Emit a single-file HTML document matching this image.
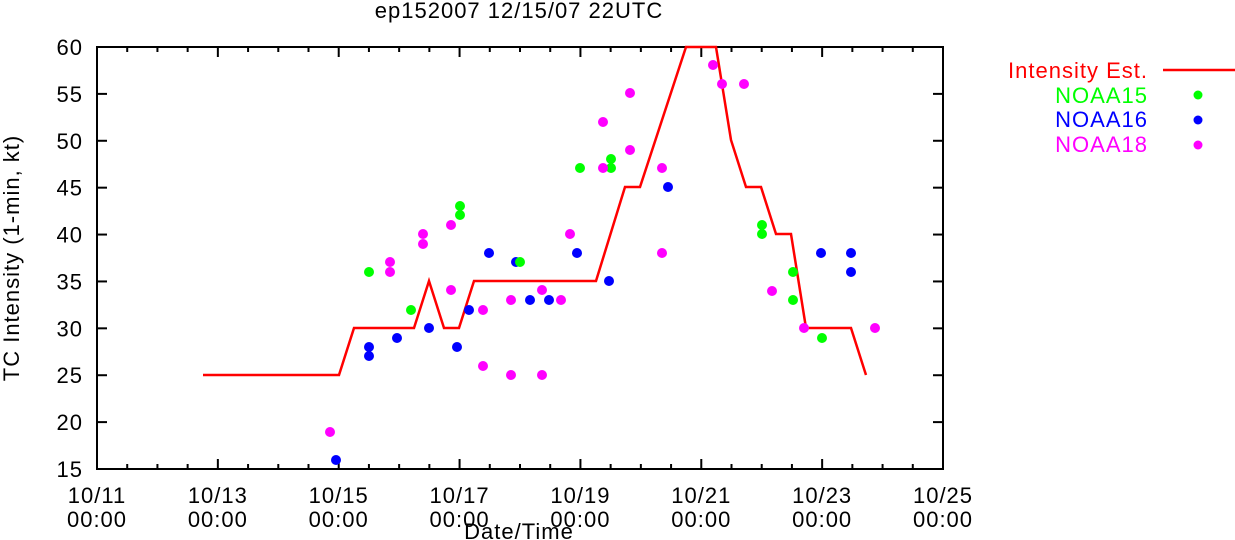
<!DOCTYPE html>
<html><head><meta charset="utf-8"><style>body{margin:0;background:#fff}svg{display:block}text{font-family:"Liberation Sans",sans-serif;font-size:22px;letter-spacing:1px}</style></head><body>
<svg width="1235" height="540" viewBox="0 0 1235 540" xmlns="http://www.w3.org/2000/svg">
<rect width="1235" height="540" fill="#fff"/>
<text x="519" y="18" text-anchor="middle">ep152007 12/15/07 22UTC</text>
<g id="ticks" stroke="#000" stroke-width="2"></g>
<g text-anchor="end" id="yl"></g>
<g text-anchor="middle" id="xl"></g>
<rect x="97" y="47" width="846" height="422" fill="none" stroke="#000" stroke-width="2"/>
<text transform="translate(19,258) rotate(-90)" text-anchor="middle">TC Intensity (1-min, kt)</text>
<text x="519" y="539" text-anchor="middle">Date/Time</text>
<polyline fill="none" stroke="#f00" stroke-width="2.5" points="203,375 339,375 354,328 414,328 429,281 444,328 459,328 474,281 596,281 625,187 640,187 686,47 716,47 731,140 746,187 761,187 776,234 791,234 806,328 851,328 866,375"/>
<g fill="#00f">
<circle cx="336" cy="460" r="5"/><circle cx="369" cy="347" r="5"/><circle cx="369" cy="356" r="5"/><circle cx="397" cy="338" r="5"/><circle cx="429" cy="328" r="5"/><circle cx="457" cy="347" r="5"/><circle cx="469" cy="310" r="5"/><circle cx="489" cy="253" r="5"/><circle cx="516" cy="262" r="5"/><circle cx="530" cy="300" r="5"/><circle cx="549" cy="300" r="5"/><circle cx="577" cy="253" r="5"/><circle cx="609" cy="281" r="5"/><circle cx="668" cy="187" r="5"/><circle cx="821" cy="253" r="5"/><circle cx="851" cy="253" r="5"/><circle cx="851" cy="272" r="5"/>
</g>
<g fill="#0f0">
<circle cx="369" cy="272" r="5"/><circle cx="411" cy="310" r="5"/><circle cx="460" cy="206" r="5"/><circle cx="460" cy="215" r="5"/><circle cx="520" cy="262" r="5"/><circle cx="580" cy="168" r="5"/><circle cx="611" cy="159" r="5"/><circle cx="611" cy="168" r="5"/><circle cx="762" cy="225" r="5"/><circle cx="762" cy="234" r="5"/><circle cx="793" cy="272" r="5"/><circle cx="793" cy="300" r="5"/><circle cx="822" cy="338" r="5"/>
</g>
<g fill="#f0f">
<circle cx="330" cy="432" r="5"/><circle cx="390" cy="262" r="5"/><circle cx="390" cy="272" r="5"/><circle cx="423" cy="234" r="5"/><circle cx="423" cy="244" r="5"/><circle cx="451" cy="225" r="5"/><circle cx="451" cy="290" r="5"/><circle cx="483" cy="310" r="5"/><circle cx="483" cy="366" r="5"/><circle cx="511" cy="300" r="5"/><circle cx="511" cy="375" r="5"/><circle cx="542" cy="290" r="5"/><circle cx="542" cy="375" r="5"/><circle cx="561" cy="300" r="5"/><circle cx="570" cy="234" r="5"/><circle cx="603" cy="122" r="5"/><circle cx="603" cy="168" r="5"/><circle cx="630" cy="93" r="5"/><circle cx="630" cy="150" r="5"/><circle cx="662" cy="168" r="5"/><circle cx="662" cy="253" r="5"/><circle cx="713" cy="65" r="5"/><circle cx="722" cy="84" r="5"/><circle cx="744" cy="84" r="5"/><circle cx="772" cy="291" r="5"/><circle cx="804" cy="328" r="5"/><circle cx="875" cy="328" r="5"/>
</g>
<g text-anchor="end">
<text x="1148" y="78" fill="#f00">Intensity Est.</text>
<text x="1148" y="103" fill="#0f0">NOAA15</text>
<text x="1148" y="127" fill="#00f">NOAA16</text>
<text x="1148" y="152" fill="#f0f">NOAA18</text>
</g>
<line x1="1163" y1="70" x2="1235" y2="70" stroke="#f00" stroke-width="2.5"/>
<circle cx="1198" cy="95" r="4.5" fill="#0f0"/><circle cx="1198" cy="120" r="4.5" fill="#00f"/><circle cx="1198" cy="145" r="4.5" fill="#f0f"/>
<script>
var ns="http://www.w3.org/2000/svg",t=document.getElementById("ticks"),yl=document.getElementById("yl"),xl=document.getElementById("xl");
function L(a,b,c,d){var l=document.createElementNS(ns,"line");l.setAttribute("x1",a);l.setAttribute("y1",b);l.setAttribute("x2",c);l.setAttribute("y2",d);t.appendChild(l);}
function T(p,x,y,s){var e=document.createElementNS(ns,"text");e.setAttribute("x",x);e.setAttribute("y",y);e.textContent=s;p.appendChild(e);}
for(var v=15;v<=60;v+=5){var y=469-(v-15)*422/45;L(97,y,107,y);L(943,y,933,y);T(yl,83,y+8,v);}
for(var i=0;i<=28;i++){var x=97+i*846/28,len=(i%4==0)?10:5;L(x,469,x,469-len);L(x,47,x,47+len);
if(i%4==0){T(xl,x,503,"10/"+(11+i/2));T(xl,x,527,"00:00");}}
</script>
</svg>
</body></html>
